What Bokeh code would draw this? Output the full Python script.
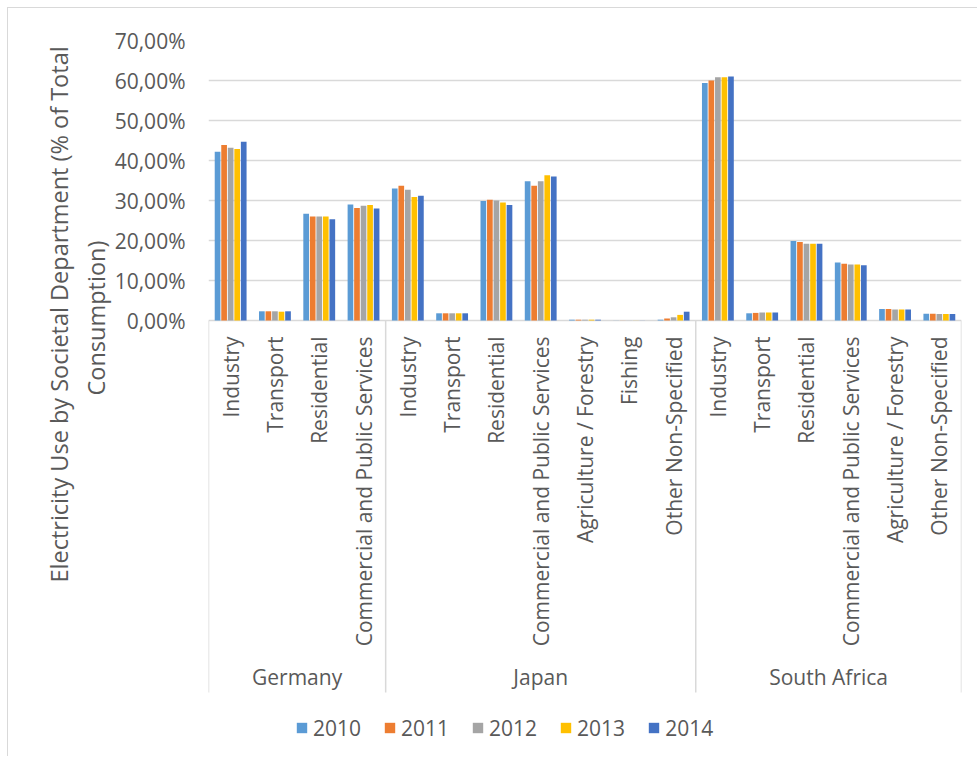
import numpy as np
from bokeh.plotting import figure
from bokeh.models import (Range1d, FixedTicker, ColumnDataSource, Legend, LegendItem, Title)
from bokeh.core.properties import value
from bokeh.embed import file_html
from bokeh.resources import INLINE

# ---------------- data ----------------
countries = ["Germany", "Japan", "South Africa"]
germany_cats = ["Industry", "Transport", "Residential", "Commercial and Public Services"]
japan_cats = ["Industry", "Transport", "Residential", "Commercial and Public Services",
              "Agriculture / Forestry", "Fishing", "Other Non-Specified"]
south_africa_cats = ["Industry", "Transport", "Residential", "Commercial and Public Services",
                     "Agriculture / Forestry", "Other Non-Specified"]
years = ["2010", "2011", "2012", "2013", "2014"]

# values in % of total consumption, one list per year, in category order
v2010 = [42.2, 2.3, 26.7, 29.0,
         33.0, 1.8, 29.9, 34.8, 0.2, 0.02, 0.2,
         59.4, 1.8, 19.9, 14.5, 2.9, 1.7]
v2011 = [43.9, 2.3, 26.0, 28.1,
         33.7, 1.8, 30.2, 33.7, 0.2, 0.02, 0.5,
         60.0, 1.9, 19.6, 14.2, 2.9, 1.7]
v2012 = [43.2, 2.3, 26.0, 28.7,
         32.7, 1.8, 30.0, 34.8, 0.2, 0.02, 0.8,
         60.8, 2.0, 19.2, 14.0, 2.75, 1.6]
v2013 = [42.9, 2.2, 26.0, 28.9,
         30.9, 1.8, 29.5, 36.3, 0.2, 0.02, 1.4,
         60.8, 2.0, 19.2, 14.0, 2.75, 1.6]
v2014 = [44.7, 2.3, 25.3, 28.0,
         31.2, 1.8, 28.9, 36.0, 0.2, 0.02, 2.2,
         61.0, 2.0, 19.2, 13.8, 2.75, 1.6]

y_ticks = [0, 10, 20, 30, 40, 50, 60, 70]
y_tick_labels = ["0,00%", "10,00%", "20,00%", "30,00%", "40,00%", "50,00%", "60,00%", "70,00%"]
y_title = ["Electricity Use by Societal Department (% of Total", "Consumption)"]

colors = ["#5B9BD5", "#ED7D31", "#A5A5A5", "#FFC000", "#4472C4"]
FONT = "Open Sans"
TXT = "#595959"
LINE = "#D9D9D9"

# ---------------- layout helpers ----------------
groups = [germany_cats, japan_cats, south_africa_cats]
cat_labels = [c for g in groups for c in g]
n = len(cat_labels)
centers = np.arange(n) + 0.5
bounds = np.concatenate([[0], np.cumsum([len(g) for g in groups])])
group_centers = (bounds[:-1] + bounds[1:]) / 2.0

WIN_W, WIN_H = 978, 757
OFF = 8                      # canvas origin inside the page (margin 7 + 1px border)
W, H = WIN_W - OFF, WIN_H - OFF
frame_left, frame_right, frame_top = 208, 961, 40
px_per_unit = 4.0            # 10 % = 40 px
y_start = 70 - (WIN_H - frame_top) / px_per_unit
# distance from the frame bottom to where each title line starts
title_offsets = [175, 362]
title_standoffs = [6, 0]

p = figure(width=W, height=H, output_backend="svg", toolbar_location=None,
           x_range=Range1d(0, n), y_range=Range1d(y_start, 70),
           min_border_left=frame_left - OFF, min_border_right=WIN_W - frame_right,
           min_border_top=frame_top - OFF, min_border_bottom=0, title=None,
           margin=(7, 0, 0, 7))
p.styles = {"border-top": "1px solid #D9D9D9", "border-left": "1px solid #D9D9D9"}
p.outline_line_color = None
p.background_fill_color = "white"
p.border_fill_color = "white"
p.xaxis.visible = False
p.xgrid.visible = False

# y axis
p.yaxis.ticker = FixedTicker(ticks=y_ticks)
p.yaxis.major_label_overrides = {t: l for t, l in zip(y_ticks, y_tick_labels)}
p.yaxis.axis_line_color = None
p.yaxis.major_tick_line_color = None
p.yaxis.minor_tick_line_color = None
p.yaxis.major_tick_out = 0
p.yaxis.major_tick_in = 0
p.yaxis.minor_tick_out = 0
p.yaxis.major_label_standoff = 23
p.yaxis.major_label_text_font = FONT
p.yaxis.major_label_text_font_size = "21px"
p.yaxis.major_label_text_color = TXT
p.ygrid.grid_line_color = LINE
p.ygrid.grid_line_width = 1.5

# y-axis title: two lines, placed in the left panel (later ones sit farther out)
for txt, off, so in reversed(list(zip(y_title, title_offsets, title_standoffs))):
    p.add_layout(Title(text=txt, align="left", offset=off, standoff=so,
                       text_font=FONT, text_font_size="23.5px", text_font_style="normal",
                       text_color=TXT), "left")

# bars
series = [v2010, v2011, v2012, v2013, v2014]
slot = 0.1476
bar_w = slot * 0.87
renderers = []
for i, (yr, vals, col) in enumerate(zip(years, series, colors)):
    off = (i - 2) * slot
    src = ColumnDataSource(dict(x=centers + off, top=vals))
    r = p.vbar(x="x", top="top", bottom=0, width=bar_w, source=src,
               fill_color=col, line_color=None)
    renderers.append(r)

# category box separators
p.segment(x0=bounds, y0=np.zeros(len(bounds)), x1=bounds,
          y1=np.full(len(bounds), -93.0), line_color=LINE, line_width=1.5)

# category labels (rotated)
p.text(x=centers, y=np.full(n, -4.0), text=cat_labels, angle=np.pi / 2,
       text_align="right", text_baseline="middle", text_font=value(FONT),
       text_font_size="21px", text_color=TXT)
# country labels
p.text(x=group_centers, y=np.full(3, -89.0), text=countries,
       text_align="center", text_baseline="middle", text_font=value(FONT),
       text_font_size="21px", text_color=TXT)

# legend
legend = Legend(items=[LegendItem(label=yr, renderers=[r]) for yr, r in zip(years, renderers)],
                orientation="horizontal", location=(87, 15.5),
                glyph_width=13, glyph_height=13, label_standoff=5, spacing=22,
                label_text_font=FONT, label_text_font_size="21px", label_text_color=TXT,
                padding=0, margin=0, border_line_color=None, background_fill_alpha=0,
                label_height=20)
p.add_layout(legend, "center")

open("out.html", "w").write(file_html(p, INLINE))
